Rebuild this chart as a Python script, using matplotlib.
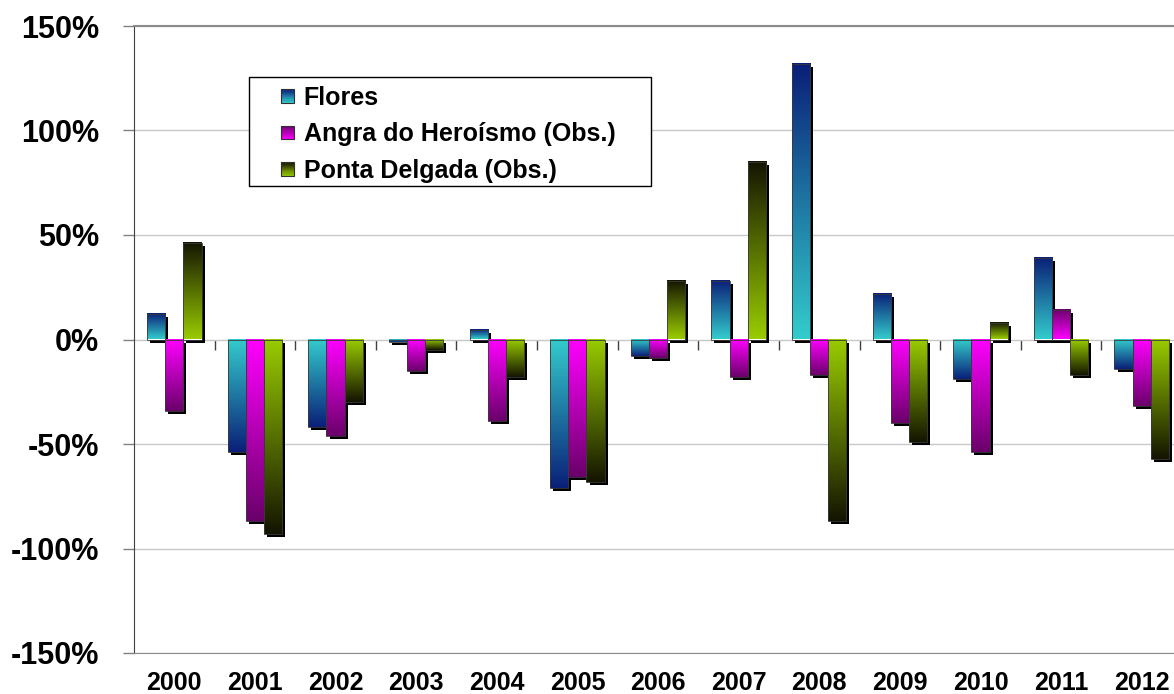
import numpy as np
import matplotlib
matplotlib.use('Agg')
import matplotlib.pyplot as plt
import matplotlib.patches as mpatches
import matplotlib.patheffects as pe
from matplotlib.colors import to_rgb

years = ['2000', '2001', '2002', '2003', '2004', '2005', '2006',
         '2007', '2008', '2009', '2010', '2011', '2012']
flores = [12, -54, -42, -1, 4.5, -71, -8, 28, 132, 22, -19, 39, -14]
angra = [-34, -87, -46, -15, -39, -66, -9, -18, -17, -40, -54, 14, -32]
ponta = [46, -93, -30, -5, -18, -68, 28, 85, -87, -49, 8, -17, -57]
names = ['Flores', 'Angra do Heroísmo (Obs.)', 'Ponta Delgada (Obs.)']
y_ticks = [-150, -100, -50, 0, 50, 100, 150]
y_labels = ['-150%', '-100%', '-50%', '0%', '50%', '100%', '150%']

# light colour at the base of the bar, dark at the tip
base_cols = ['#33cccc', '#ff00ff', '#99cc00']
tip_cols = ['#0a1f78', '#6a006a', '#141400']

plt.rcParams['font.family'] = ['Liberation Sans', 'DejaVu Sans']
plt.rcParams['font.weight'] = 'bold'

fig = plt.figure(figsize=(11.74, 6.94), dpi=100)
ax = fig.add_axes([134 / 1174, 41 / 694, 1048 / 1174, 627 / 694])

x = np.arange(len(years))
w = 0.225
g = np.linspace(0, 1, 256)[:, None, None]


def gradient(c0, c1):
    a = np.array(to_rgb(c0))[None, None, :]
    b = np.array(to_rgb(c1))[None, None, :]
    return a * (1 - g) + b * g


for k, vals in enumerate([flores, angra, ponta]):
    bars = ax.bar(x + (k - 1) * w, vals, w, color='white', edgecolor='none', zorder=2,
                  path_effects=[pe.SimplePatchShadow(offset=(2.2, -2.2), shadow_rgbFace='black', alpha=1.0),
                                pe.Normal()])
    arr = gradient(base_cols[k], tip_cols[k])
    for p in bars:
        x0, bw, h = p.get_x(), p.get_width(), p.get_height()
        if h >= 0:
            ax.imshow(arr, extent=(x0, x0 + bw, 0, h), origin='lower', aspect='auto',
                      interpolation='bilinear', zorder=2.5)
        else:
            ax.imshow(arr[::-1], extent=(x0, x0 + bw, h, 0), origin='lower', aspect='auto',
                      interpolation='bilinear', zorder=2.5)
        ax.add_patch(mpatches.Rectangle((x0, 0), bw, h, fill=False, edgecolor='#3a3a3a',
                                        lw=0.6, zorder=2.6))

ax.set_xlim(-0.5, len(years) - 0.5)
ax.set_ylim(-150, 150)
ax.set_xticks(x, years)
ax.set_yticks(y_ticks, y_labels)
ax.tick_params(axis='x', length=0, pad=13, labelsize=18)
ax.tick_params(axis='y', direction='out', length=8, width=1, color='#808080', pad=17, labelsize=22)
ax.yaxis.grid(True, color='#c8c8c8', lw=1)
ax.set_axisbelow(True)
ax.spines['right'].set_visible(False)
ax.spines['top'].set_color('#8c8c8c')
ax.spines['top'].set_linewidth(1.5)
ax.spines['bottom'].set_color('#8c8c8c')
ax.spines['left'].set_color('#404040')

# category axis crossing at 0%
zero = ax.secondary_xaxis(0.5)
zero.set_xticks(x[:-1] + 0.5, [''] * (len(years) - 1))
zero.xaxis.set_ticks_position('bottom')
zero.tick_params(axis='x', direction='out', length=7, width=1, color='#404040',
                 labelbottom=False, labeltop=False)
zero.spines['bottom'].set_color('#707070')
zero.spines['top'].set_visible(False)


class GradHandler:
    def __init__(self, c0, c1):
        self.c0 = np.array(to_rgb(c0))
        self.c1 = np.array(to_rgb(c1))

    def legend_artist(self, legend, orig_handle, fontsize, handlebox):
        x0, y0 = -handlebox.xdescent, -handlebox.ydescent
        hw, hh = handlebox.width, handlebox.height
        n = 12
        for i in range(n):
            t = (i + 0.5) / n
            c = self.c0 * (1 - t) + self.c1 * t
            handlebox.add_artist(mpatches.Rectangle((x0, y0 + i * hh / n), hw, hh / n + 0.2,
                                                    facecolor=c, lw=0,
                                                    transform=handlebox.get_transform()))
        box = mpatches.Rectangle((x0, y0), hw, hh, fill=False, edgecolor='#303030', lw=0.8,
                                 transform=handlebox.get_transform())
        handlebox.add_artist(box)
        return box


proxies = [mpatches.Patch(label=n) for n in names]
hmap = {p: GradHandler(base_cols[i], tip_cols[i]) for i, p in enumerate(proxies)}

frame = mpatches.Rectangle((249 / 1174, 1 - 186 / 694), 402 / 1174, 109 / 694,
                           transform=fig.transFigure, facecolor='white', edgecolor='black',
                           lw=1, zorder=4)
fig.patches.append(frame)
fig.legend(handles=proxies, handler_map=hmap, loc='upper left',
           bbox_to_anchor=(281 / 1174, 1 - 86 / 694), bbox_transform=fig.transFigure,
           frameon=False, borderpad=0, borderaxespad=0, fontsize=18,
           handlelength=0.5, handleheight=0.45, handletextpad=0.4, labelspacing=0.5)

fig.savefig('out.png', dpi=100)
